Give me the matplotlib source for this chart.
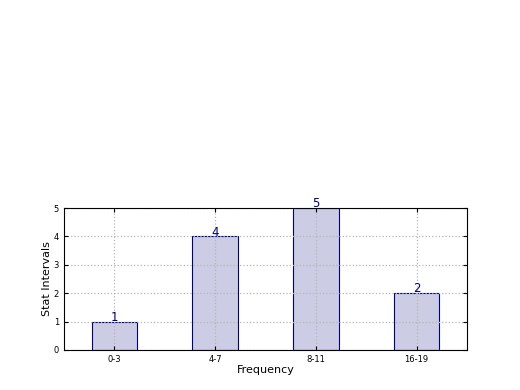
import matplotlib
matplotlib.use("Agg")
import matplotlib.pyplot as plt
import numpy as np

intervals = ["0-3", "4-7", "8-11", "16-19"]
counts = [1, 4, 5, 2]

fig = plt.figure(figsize=(5.2, 3.9), dpi=100)
ax = fig.add_axes([0.123, 0.1026, 0.775, 0.364])

x = np.arange(len(intervals))
bars = ax.bar(x, counts, width=0.45, color="#ccccE5", edgecolor="navy", linewidth=0.8)
for xi, c in zip(x, counts):
    ax.text(xi, c - 0.08, str(c), ha="center", va="bottom", color="navy", fontsize=8.5)

ax.set_xlim(-0.5, 3.5)
ax.set_ylim(0, 5)
ax.set_xticks(x)
ax.set_xticklabels(intervals, fontsize=6)
ax.tick_params(axis="y", labelsize=6)
ax.tick_params(direction="in", top=True, right=True, length=3)
ax.grid(True, linestyle=":", color="#b5b5b5", linewidth=0.9)
for s in ax.spines.values():
    s.set_zorder(5)
ax.set_xlabel("Frequency", fontsize=8, labelpad=1)
ax.set_ylabel("Stat Intervals", fontsize=8, labelpad=1)

fig.savefig("out.png", dpi=100)
